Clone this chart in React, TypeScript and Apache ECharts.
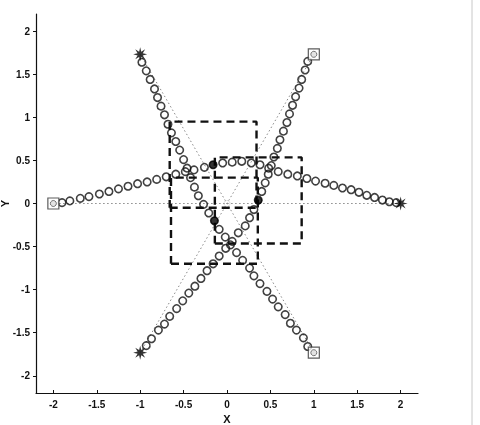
import React, { useEffect, useRef } from 'react';
import * as echarts from 'echarts';

const tickValues = [-2, -1.5, -1, -0.5, 0, 0.5, 1, 1.5, 2];

const starts = [[-1, 1.732], [2, 0], [-1, -1.732]];
const goals = [[1, -1.732], [-2, 0], [1, 1.732]];

const path1 = [
  [-0.98, 1.64], [-0.93, 1.54], [-0.885, 1.44], [-0.835, 1.33], [-0.8, 1.23], [-0.76, 1.13],
  [-0.72, 1.03], [-0.68, 0.92], [-0.64, 0.82], [-0.59, 0.72], [-0.545, 0.62], [-0.5, 0.51],
  [-0.46, 0.41], [-0.42, 0.3], [-0.375, 0.19], [-0.33, 0.09], [-0.27, -0.01], [-0.21, -0.11],
  [-0.145, -0.2], [-0.09, -0.3], [-0.02, -0.39], [0.04, -0.48], [0.11, -0.57], [0.18, -0.66],
  [0.26, -0.75], [0.31, -0.84], [0.38, -0.93], [0.46, -1.02], [0.525, -1.11], [0.59, -1.2],
  [0.67, -1.29], [0.73, -1.39], [0.8, -1.47], [0.88, -1.56], [0.93, -1.66],
];

const path2 = [
  [-1.9, 0.01], [-1.81, 0.03], [-1.69, 0.06], [-1.59, 0.08], [-1.47, 0.11], [-1.36, 0.14],
  [-1.25, 0.17], [-1.14, 0.2], [-1.03, 0.23], [-0.92, 0.25], [-0.81, 0.28], [-0.7, 0.31],
  [-0.59, 0.34], [-0.48, 0.37], [-0.38, 0.39], [-0.26, 0.42], [-0.16, 0.45], [-0.05, 0.47],
  [0.06, 0.48], [0.17, 0.49], [0.28, 0.47], [0.38, 0.45], [0.48, 0.41], [0.59, 0.37],
  [0.7, 0.34], [0.81, 0.32], [0.92, 0.29], [1.02, 0.26], [1.13, 0.235], [1.23, 0.21],
  [1.33, 0.18], [1.43, 0.16], [1.52, 0.13], [1.61, 0.095], [1.7, 0.07], [1.79, 0.04],
  [1.87, 0.02], [1.95, 0.01],
];

const path3 = [
  [-0.93, -1.65], [-0.87, -1.57], [-0.79, -1.47], [-0.72, -1.4], [-0.66, -1.31], [-0.58, -1.22],
  [-0.51, -1.13], [-0.44, -1.04], [-0.37, -0.96], [-0.3, -0.87], [-0.23, -0.78], [-0.16, -0.7],
  [-0.09, -0.61], [-0.015, -0.52], [0.06, -0.44], [0.13, -0.34], [0.21, -0.26], [0.26, -0.165],
  [0.31, -0.07], [0.36, 0.04], [0.4, 0.14], [0.44, 0.24], [0.475, 0.34], [0.51, 0.44],
  [0.54, 0.54], [0.58, 0.64], [0.61, 0.74], [0.65, 0.84], [0.69, 0.94], [0.72, 1.04],
  [0.755, 1.14], [0.79, 1.24], [0.83, 1.34], [0.86, 1.44], [0.9, 1.55], [0.93, 1.65],
];

const dots = [[-0.16, 0.45], [0.36, 0.035], [-0.145, -0.2]];
const boxHalf = 0.5;
const centerMark = [[0, 0]];

const starPath = (() => {
  let d = '';
  for (let i = 0; i < 16; i++) {
    const a = (i * Math.PI) / 8 - Math.PI / 2;
    const r = i % 2 === 0 ? 1 : 0.4;
    d += (i === 0 ? 'M' : 'L') + (1 + r * Math.cos(a)).toFixed(3) + ' ' + (1 + r * Math.sin(a)).toFixed(3) + ' ';
  }
  return 'path://' + d + 'Z';
})();

const boxOf = (c: number[]) => [
  [c[0] - boxHalf, c[1] - boxHalf],
  [c[0] + boxHalf, c[1] - boxHalf],
  [c[0] + boxHalf, c[1] + boxHalf],
  [c[0] - boxHalf, c[1] + boxHalf],
  [c[0] - boxHalf, c[1] - boxHalf],
];

export default function App() {
  const ref = useRef<HTMLDivElement>(null);
  useEffect(() => {
    if (!ref.current) return;
    const chart = echarts.init(ref.current, null, { renderer: 'svg' });
    const font = { fontFamily: 'Liberation Sans', fontWeight: 'bold' as const, fontSize: 10, color: '#111' };
    const series: any[] = [];
    starts.forEach((s, i) => {
      series.push({
        type: 'line', data: [s, goals[i]], symbol: 'none', silent: true, z: 1,
        lineStyle: { color: '#888', width: 1, type: [1.5, 2.5] },
      });
    });
    dots.forEach((c) => {
      series.push({
        type: 'line', data: boxOf(c), symbol: 'none', silent: true, z: 2,
        lineStyle: { color: '#111', width: 2.4, type: [8, 5] },
      });
    });
    [path1, path2, path3].forEach((p) => {
      series.push({
        type: 'scatter', data: p, symbol: 'circle', symbolSize: 7.5, z: 3,
        itemStyle: { color: 'rgba(255,255,255,0)', borderColor: '#111', borderWidth: 1.6 },
      });
    });
    series.push({
      type: 'scatter', data: dots, symbol: 'circle', symbolSize: 8, z: 4,
      itemStyle: { color: '#000' },
    });
    series.push({
      type: 'scatter', data: starts, symbol: starPath, symbolSize: 14, z: 5,
      itemStyle: { color: '#000' },
    });
    series.push({
      type: 'scatter', data: goals, symbol: 'rect', symbolSize: 11, z: 5,
      itemStyle: { color: '#fff', borderColor: '#333', borderWidth: 1.2 },
    });
    series.push({
      type: 'scatter', data: goals, symbol: 'circle', symbolSize: 6, z: 6,
      itemStyle: { color: '#ddd', borderColor: '#555', borderWidth: 1 },
    });
    series.push({
      type: 'scatter', data: centerMark, symbol: 'circle', symbolSize: 6, z: 3,
      itemStyle: { color: 'rgba(255,255,255,0)', borderColor: '#aaa', borderWidth: 1, borderType: 'dotted' },
    });

    chart.setOption({
      animation: false,
      grid: { left: 36, right: 62, top: 14, bottom: 32, outerBoundsMode: 'none', containLabel: false },
      xAxis: {
        type: 'value', min: -2.2, max: 2.2,
        name: 'X', nameLocation: 'middle', nameGap: 20,
        nameTextStyle: { fontFamily: 'Liberation Sans', fontWeight: 'bold', fontSize: 11, color: '#111' },
        axisLine: { onZero: false, lineStyle: { color: '#111', width: 1.2 } },
        axisTick: { inside: true, length: 3, customValues: tickValues, lineStyle: { color: '#111' } },
        axisLabel: { customValues: tickValues, margin: 6, ...font },
        splitLine: { show: false },
      },
      yAxis: {
        type: 'value', min: -2.2, max: 2.2,
        name: 'Y', nameLocation: 'middle', nameGap: 26, nameMoveOverlap: false,
        nameTextStyle: { fontFamily: 'Liberation Sans', fontWeight: 'bold', fontSize: 11, color: '#111' },
        axisLine: { onZero: false, lineStyle: { color: '#111', width: 1.2 } },
        axisTick: { inside: false, length: 3, customValues: tickValues, lineStyle: { color: '#111' } },
        axisLabel: { customValues: tickValues, margin: 6, ...font },
        splitLine: { show: false },
      },
      graphic: [
        { type: 'line', shape: { x1: 472, y1: 0, x2: 472, y2: 425 }, style: { stroke: '#c8c8c8', lineWidth: 1 } },
      ],
      series,
    });
    return () => chart.dispose();
  }, []);
  return <div ref={ref} style={{ position: 'fixed', left: 0, top: 0, width: 480, height: 425 }} />;
}
